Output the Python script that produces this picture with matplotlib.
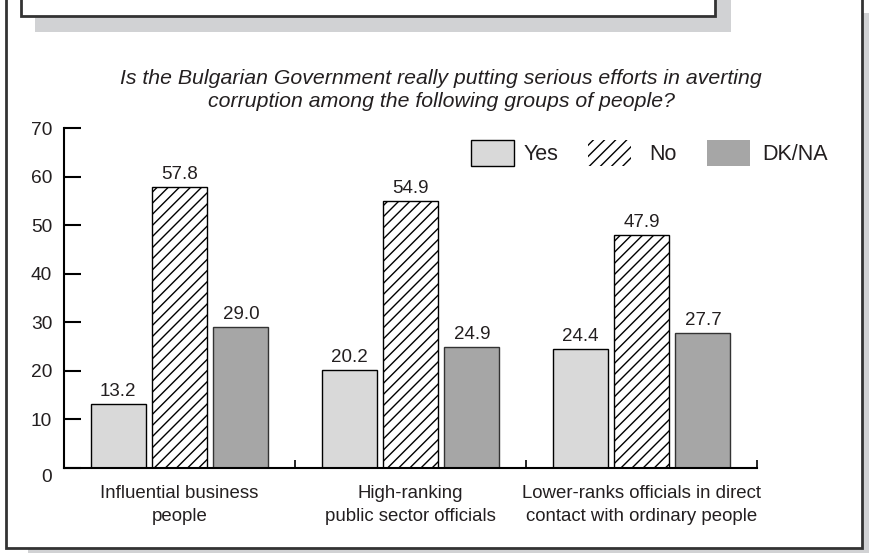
import matplotlib
matplotlib.use("Agg")
import matplotlib.pyplot as plt
from matplotlib.patches import Rectangle, Patch
import matplotlib.transforms as mtransforms
import numpy as np

# data
groups = ["Influential business\npeople",
          "High-ranking\npublic sector officials",
          "Lower-ranks officials in direct\ncontact with ordinary people"]
yes_vals = [13.2, 20.2, 24.4]
no_vals = [57.8, 54.9, 47.9]
dk_vals = [29.0, 24.9, 27.7]
series_names = ["Yes", "No", "DK/NA"]
title_text = ("Is the Bulgarian Government really putting serious efforts in averting\n"
              "corruption among the following groups of people?")

plt.rcParams['font.family'] = ['Liberation Sans', 'DejaVu Sans']
plt.rcParams['hatch.linewidth'] = 1.0
txt = '#231f20'
shadow = '#d1d2d4'

W, H = 869, 553
fig = plt.figure(figsize=(W / 100, H / 100), dpi=100)

# background frame + shadows, drawn in pixel coords
bg = fig.add_axes([0, 0, 1, 1])
bg.set_xlim(0, W)
bg.set_ylim(H, 0)
bg.axis('off')
bg.add_patch(Rectangle((28, 540), 841, 20, facecolor=shadow, edgecolor='none'))
bg.add_patch(Rectangle((862, 13), 10, 560, facecolor=shadow, edgecolor='none'))
bg.add_patch(Rectangle((6, -20), 856, 568, facecolor='white', edgecolor='#333333', lw=2))
# cut-off title box at the top
bg.add_patch(Rectangle((35, -20), 696, 52, facecolor=shadow, edgecolor='none'))
bg.add_patch(Rectangle((21, -20), 694, 36, facecolor='white', edgecolor='#333333', lw=2))

bg.text(441, 90, title_text, ha='center', va='center', fontsize=15.3, style='italic',
        color=txt, linespacing=1.3)

# main chart
ax = fig.add_axes([64 / W, 1 - 468 / H, (757 - 64) / W, (468 - 128) / H])
ax.patch.set_alpha(0)
x = np.arange(len(groups))
off = 0.266
bw = 0.238
b1 = ax.bar(x - off, yes_vals, bw, color='#d9d9d9', edgecolor='black', lw=1)
b2 = ax.bar(x, no_vals, bw, color='white', edgecolor='black', lw=1, hatch='///')
b3 = ax.bar(x + off, dk_vals, bw, color='#a6a6a6', edgecolor='#333333', lw=1)

for bars in (b1, b2, b3):
    for b in bars:
        h = b.get_height()
        ax.annotate(f"{h:.1f}", (b.get_x() + b.get_width() / 2, h), xytext=(0, 3),
                    textcoords='offset points', ha='center', va='bottom',
                    fontsize=13.5, color=txt)

ax.set_xlim(-0.5, 2.5)
ax.set_ylim(0, 70)
ax.spines['top'].set_visible(False)
ax.spines['right'].set_visible(False)
ax.spines['left'].set_linewidth(1.5)
ax.spines['bottom'].set_linewidth(1.5)

ax.set_yticks(range(0, 71, 10))
ax.tick_params(axis='y', direction='in', length=12, width=1.5, pad=8.5,
               labelsize=13.8, labelcolor=txt)
ax.set_xticks(x)
ax.set_xticklabels(groups, fontsize=13.4, color=txt, linespacing=1.5)
ax.tick_params(axis='x', which='major', length=0, pad=12)
ax.set_xticks([0.5, 1.5, 2.5], minor=True)
ax.tick_params(axis='x', which='minor', direction='in', length=6, width=1.2)

# nudge the "0" label down a bit like the original
zero_lbl = ax.get_yticklabels()[0]
zero_lbl.set_transform(zero_lbl.get_transform() +
                       mtransforms.ScaledTranslation(0, -8 / 100, fig.dpi_scale_trans))

# legend: one small legend per entry so the spacing matches the original
handles = [Patch(facecolor='#d9d9d9', edgecolor='black', lw=1),
           Patch(facecolor='white', edgecolor='black', lw=0, hatch='///'),
           Patch(facecolor='#a6a6a6', edgecolor='none')]
leg_x = [471, 588, 707]
leg_pad = [0.42, 0.85, 0.55]
for hnd, name, lx, pd in zip(handles, series_names, leg_x, leg_pad):
    fig.legend([hnd], [name], loc='center left', bbox_to_anchor=(lx / W, 1 - 153 / H),
               frameon=False, fontsize=15.5, handlelength=2.0, handleheight=1.45,
               handletextpad=pd, borderpad=0, borderaxespad=0, labelcolor=txt)

fig.savefig('out.png', dpi=100)
